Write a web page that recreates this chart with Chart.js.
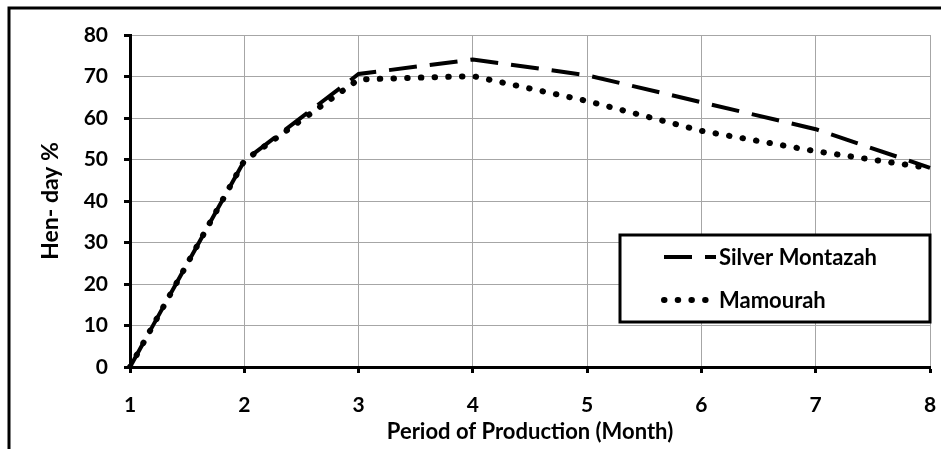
<!DOCTYPE html>
<html>
<head>
<meta charset="utf-8">
<script src="https://cdn.jsdelivr.net/npm/chart.js@4/dist/chart.umd.min.js"></script>
<style>
  html, body { margin: 0; padding: 0; background: #fff; }
  #wrap { width: 941px; height: 449px; position: relative; }
</style>
</head>
<body>
<div id="wrap"><canvas id="henChart"></canvas></div>
<script>
// data
const months = ['1', '2', '3', '4', '5', '6', '7', '8'];
const silverMontazah = [0, 49.7, 70.6, 74.1, 70.3, 63.8, 57.3, 48];
const mamourah = [0, 49.7, 69.3, 70.1, 64.1, 56.9, 52.0, 47.9];
const yTicks = [0, 10, 20, 30, 40, 50, 60, 70, 80];

const FONT = 'Lato, "Open Sans", sans-serif';

// frame round the picture (only top and left show in the crop)
const framePlugin = {
  id: 'frame',
  beforeDraw(chart) {
    const ctx = chart.ctx;
    ctx.save();
    ctx.fillStyle = '#fff';
    ctx.fillRect(0, 0, chart.width, chart.height);
    ctx.strokeStyle = '#000';
    ctx.lineWidth = 3;
    ctx.beginPath();
    ctx.moveTo(9, chart.height + 2);
    ctx.lineTo(9, 8);
    ctx.lineTo(chart.width + 2, 8);
    ctx.stroke();
    ctx.restore();
  }
};

// boxed legend inside the plot, lower right
const boxLegend = {
  id: 'boxLegend',
  afterDraw(chart) {
    const ctx = chart.ctx;
    const a = chart.chartArea;
    const x0 = a.right - 310, y0 = a.top + 200, w = 310, h = 87;
    ctx.save();
    ctx.fillStyle = '#fff';
    ctx.fillRect(x0, y0, w, h);
    ctx.strokeStyle = '#000';
    ctx.lineWidth = 3;
    ctx.strokeRect(x0, y0, w, h);
    chart.data.datasets.forEach((ds, i) => {
      const y = y0 + 22 + i * 43;
      ctx.strokeStyle = ds.borderColor;
      ctx.lineWidth = ds.borderWidth;
      ctx.lineCap = ds.borderCapStyle;
      ctx.setLineDash(ds.borderDash);
      ctx.beginPath();
      ctx.moveTo(x0 + 44, y);
      ctx.lineTo(x0 + 96, y);
      ctx.stroke();
      ctx.setLineDash([]);
      ctx.fillStyle = '#000';
      ctx.font = 'bold 22px ' + FONT;
      ctx.textBaseline = 'middle';
      ctx.fillText(ds.label, x0 + 99, y + 1);
    });
    ctx.restore();
  }
};

new Chart(document.getElementById('henChart'), {
  type: 'line',
  data: {
    labels: months,
    datasets: [
      {
        label: 'Silver Montazah',
        data: silverMontazah,
        borderColor: '#000',
        borderWidth: 4,
        borderDash: [28, 13],
        borderCapStyle: 'butt',
        pointRadius: 0,
        tension: 0,
        fill: false
      },
      {
        label: 'Mamourah',
        data: mamourah,
        borderColor: '#000',
        borderWidth: 6,
        borderDash: [0.5, 13.2],
        borderCapStyle: 'round',
        pointRadius: 0,
        tension: 0,
        fill: false
      }
    ]
  },
  options: {
    responsive: true,
    maintainAspectRatio: false,
    animation: false,
    layout: { padding: { left: 0, top: 35, right: 11, bottom: 0 } },
    plugins: {
      legend: { display: false },
      tooltip: { enabled: false }
    },
    scales: {
      x: {
        grid: { color: '#a6a6a6', lineWidth: 1, tickColor: '#000', tickLength: 6, tickWidth: 3 },
        border: { color: '#000', width: 3 },
        ticks: { color: '#000', font: { family: FONT, size: 21, weight: 'bold' }, padding: 20, maxRotation: 0 },
        title: {
          display: true,
          text: 'Period of Production (Month)',
          color: '#000',
          font: { family: FONT, size: 22, weight: 'bold' },
          padding: { top: 0, bottom: 4 }
        },
        afterFit(scale) {
          scale.height = 82;
          scale.paddingLeft = 0;
          scale.paddingRight = 0;
        }
      },
      y: {
        min: 0,
        max: 80,
        afterBuildTicks(scale) { scale.ticks = yTicks.map(v => ({ value: v })); },
        grid: { color: '#a6a6a6', lineWidth: 1, tickColor: '#000', tickLength: 6, tickWidth: 3 },
        border: { color: '#000', width: 3 },
        ticks: { color: '#000', font: { family: FONT, size: 21, weight: 'bold' }, padding: 16 },
        title: {
          display: true,
          text: 'Hen- day %',
          color: '#000',
          font: { family: FONT, size: 23, weight: 'bold' },
          padding: { top: 37, bottom: 0 }
        },
        afterFit(scale) {
          scale.width = 130;
          scale.paddingTop = 0;
          scale.paddingBottom = 0;
        }
      }
    }
  },
  plugins: [framePlugin, boxLegend]
});
</script>
</body>
</html>
